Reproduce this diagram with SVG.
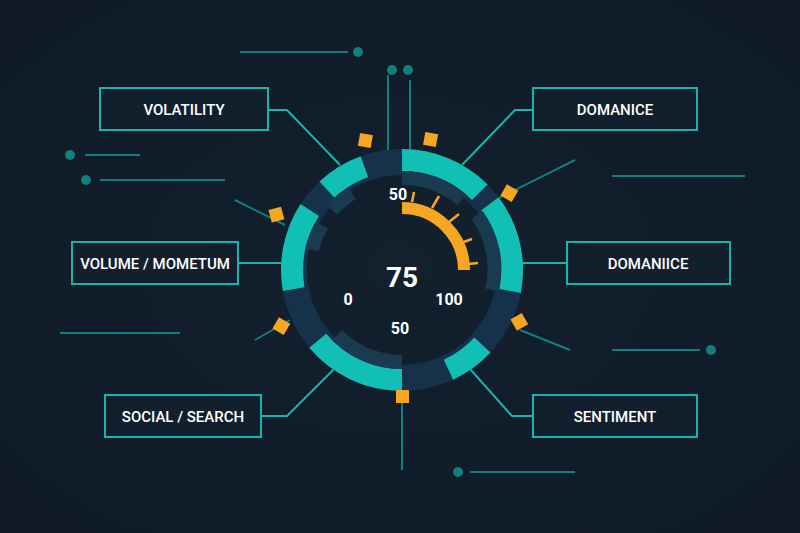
<svg xmlns="http://www.w3.org/2000/svg" width="800" height="533" viewBox="0 0 800 533">
<defs>
<radialGradient id="bg" cx="50%" cy="50%" r="70%"><stop offset="0" stop-color="#13202e"/><stop offset="1" stop-color="#0f1a26"/></radialGradient>
<style>
.box{fill:#12202e;stroke:#17b5ad;stroke-width:2}
.lbl{font-family:Roboto,"Liberation Sans",sans-serif;font-size:15px;font-weight:500;fill:#fff;text-anchor:middle}
.con{fill:none;stroke:#17b5ad;stroke-width:2}
.deco{fill:none;stroke:#137e7e;stroke-width:2}
.dot{fill:#137e7e}
.sq{fill:#f5a623}
.num{font-family:Roboto,"Liberation Sans",sans-serif;font-weight:700;fill:#fff;text-anchor:middle}
.seg{fill:none;stroke:#12bfb4;stroke-width:22}
.inn{fill:none;stroke:#1a3a50;stroke-width:14}
</style>
</defs>
<rect width="800" height="533" fill="url(#bg)"/>
<g id="decor">
<path class="deco" d="M240 52H348M85 155H140M100 180H225M612 176H745M612 350H700M470 472H575M60 333H180M388 75V150M410 80V150M402 390V470M235 200L285 225M495 200L575 160M255 340L290 320M520 330L570 350"/>
<circle class="dot" cx="358" cy="52" r="5"/><circle class="dot" cx="392" cy="70" r="5"/><circle class="dot" cx="408" cy="70" r="5"/>
<circle class="dot" cx="70" cy="155" r="5"/><circle class="dot" cx="86" cy="180" r="5"/><circle class="dot" cx="711" cy="350" r="5"/><circle class="dot" cx="458" cy="472" r="5"/>
</g>
<g id="connectors">
<path class="con" d="M268 110H287L340 165M533 110H515L462 165M238 263H283M567 263H520M261 416H287L335 368M533 416H512L462 360"/>
</g>
<g id="gauge">
<circle cx="402" cy="270" r="108" fill="none" stroke="#16324a" stroke-width="26"/>
<g transform="translate(402 270)">
<path class="seg" d="M0 -110A110 110 0 0 1 77.8 -77.8"/>
<path class="seg" d="M87.8 -66.2A110 110 0 0 1 108 21"/>
<path class="seg" d="M80.4 75A110 110 0 0 1 46.5 99.7"/>
<path class="seg" d="M0 110A110 110 0 0 1 -84.3 70.7"/>
<path class="seg" d="M-108.3 19.1A110 110 0 0 1 -92.2 -60"/>
<path class="seg" d="M-75 -80.4A110 110 0 0 1 -37.6 -103.4"/>
<path class="inn" d="M0 -92A92 92 0 0 1 60 -70M75 -55A92 92 0 0 1 90 20M0 92A92 92 0 0 1 -65 65M-90 -20A92 92 0 0 1 -80 -45M-70 -60A92 92 0 0 1 -50 -77"/>
<path d="M0 -62A62 62 0 0 1 62 0" fill="none" stroke="#f5a623" stroke-width="12"/>
<g stroke="#f5a623" stroke-width="2.5">
<line x1="10" y1="-68" x2="12" y2="-78"/><line x1="30" y1="-62" x2="37" y2="-74"/><line x1="47" y1="-48" x2="57" y2="-56"/><line x1="59" y1="-27" x2="70" y2="-31"/><line x1="66" y1="-6" x2="76" y2="-7"/>
</g>
</g>
<text class="num" x="402" y="287" font-size="28">75</text>
<text class="num" x="398" y="200" font-size="16">50</text>
<text class="num" x="348" y="305" font-size="16">0</text>
<text class="num" x="449" y="305" font-size="16">100</text>
<text class="num" x="400" y="334" font-size="16">50</text>
<g class="sq">
<rect x="359" y="134" width="13" height="13" transform="rotate(10 365 140)"/>
<rect x="424" y="133" width="13" height="13" transform="rotate(10 430 140)"/>
<rect x="503" y="187" width="13" height="13" transform="rotate(30 510 193)"/>
<rect x="270" y="208" width="13" height="13" transform="rotate(-15 277 215)"/>
<rect x="275" y="320" width="13" height="13" transform="rotate(30 282 326)"/>
<rect x="513" y="315" width="13" height="13" transform="rotate(-30 520 322)"/>
<rect x="396" y="390" width="13" height="13"/>
</g>
</g>
<g id="n1"><rect class="box" x="100" y="88" width="168" height="42"/><text class="lbl" x="184" y="115">VOLATILITY</text></g>
<g id="n2"><rect class="box" x="533" y="88" width="164" height="42"/><text class="lbl" x="615" y="115">DOMANICE</text></g>
<g id="n3"><rect class="box" x="72" y="242" width="166" height="42"/><text class="lbl" x="155" y="269">VOLUME / MOMETUM</text></g>
<g id="n4"><rect class="box" x="567" y="242" width="163" height="42"/><text class="lbl" x="648" y="269">DOMANIICE</text></g>
<g id="n5"><rect class="box" x="105" y="395" width="156" height="42"/><text class="lbl" x="183" y="422">SOCIAL / SEARCH</text></g>
<g id="n6"><rect class="box" x="533" y="395" width="164" height="42"/><text class="lbl" x="615" y="422">SENTIMENT</text></g>
</svg>
